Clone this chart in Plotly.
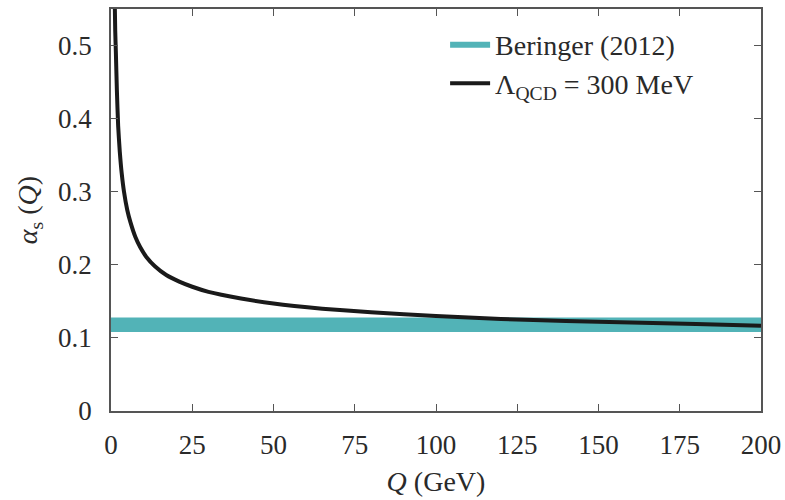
import plotly.graph_objects as go

# Data
q_gev = [1.15, 1.3, 1.5, 1.8, 2.2, 2.7, 3.3, 4, 5, 6, 7.5, 9, 11, 13.5, 17, 21,
         25, 30, 40, 50, 65, 80, 100, 120, 140, 160, 180, 200]
alpha_s = [0.56, 0.52, 0.49, 0.44, 0.39, 0.355, 0.325, 0.30, 0.275, 0.258, 0.238,
           0.224, 0.210, 0.198, 0.186, 0.177, 0.170, 0.163, 0.154, 0.147, 0.140,
           0.135, 0.130, 0.126, 0.123, 0.121, 0.119, 0.1165]
band_x = [0, 200]
band_low = [0.108, 0.108]
band_high = [0.128, 0.128]
x_ticks = [0, 25, 50, 75, 100, 125, 150, 175, 200]
y_ticks = [0, 0.1, 0.2, 0.3, 0.4, 0.5]
y_tick_labels = ["0", "0.1", "0.2", "0.3", "0.4", "0.5"]

TEAL = "#52B3B7"
FONT = "Liberation Serif"
TXT = "#2a2a2a"

fig = go.Figure()
fig.add_trace(go.Scatter(x=band_x, y=band_low, mode="lines", line=dict(width=0, color=TEAL),
                         showlegend=False, hoverinfo="skip"))
fig.add_trace(go.Scatter(x=band_x, y=band_high, mode="lines", line=dict(width=0, color=TEAL),
                         fill="tonexty", fillcolor=TEAL, name="Beringer (2012)"))
fig.add_trace(go.Scatter(x=q_gev, y=alpha_s, mode="lines", line=dict(color="#1a1a1a", width=4, shape="spline", smoothing=0.6),
                         name="Λ<sub>QCD</sub> = 300 MeV"))

axis_common = dict(showgrid=False, zeroline=False, showline=True, linecolor="#555555", linewidth=1.5,
                   ticks="inside", ticklen=7, tickwidth=1.3, tickcolor="#555555", mirror="ticks",
                   automargin=False,
                   tickfont=dict(family=FONT, size=27, color=TXT))

fig.update_xaxes(range=[0, 200], tickvals=x_ticks, ticktext=[str(v) for v in x_ticks],
                 title=dict(text="<i>Q</i> (GeV)", font=dict(family=FONT, size=28, color=TXT), standoff=12),
                 ticklabelstandoff=9, **axis_common)
fig.update_yaxes(range=[0, 0.55], tickvals=y_ticks, ticktext=y_tick_labels,
                 title=dict(text="<i>α</i><sub>s</sub> (<i>Q</i>)", font=dict(family=FONT, size=28, color=TXT), standoff=12),
                 ticklabelstandoff=12, **axis_common)

fig.update_layout(
    width=785, height=500,
    margin=dict(l=111, r=24, t=9, b=89),
    plot_bgcolor="white", paper_bgcolor="white",
    legend=dict(x=0.514, y=0.975, xanchor="left", yanchor="top", bgcolor="rgba(0,0,0,0)", traceorder="normal",
                font=dict(family=FONT, size=28, color=TXT), itemwidth=40, tracegroupgap=4),
)

fig.write_html("out.html")
